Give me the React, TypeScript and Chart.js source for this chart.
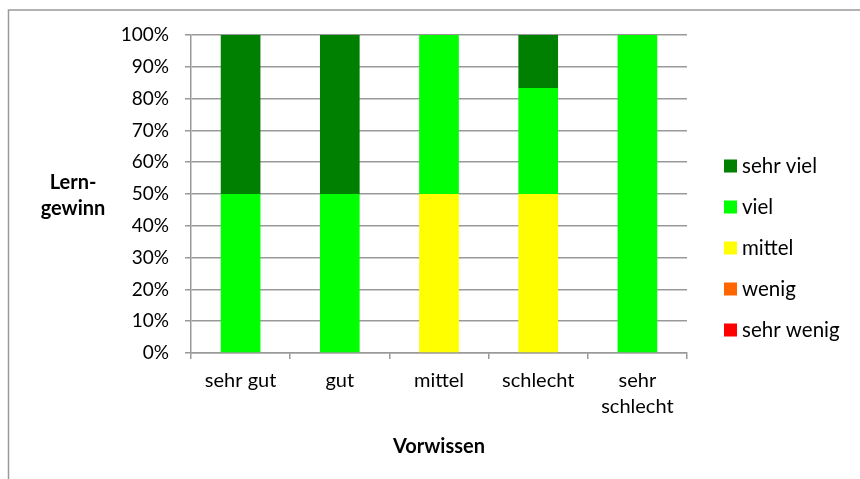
import React, { useEffect, useRef } from "react";
import { Chart, registerables } from "chart.js";

Chart.register(...registerables);

const categories: (string | string[])[] = ["sehr gut", "gut", "mittel", "schlecht", ["sehr", "schlecht"]];
const seriesNames = ["sehr wenig", "wenig", "mittel", "viel", "sehr viel"];
const seriesColors = ["#FF0000", "#FF6600", "#FFFF00", "#00FF00", "#008000"];
const sehrWenig = [0, 0, 0, 0, 0];
const wenig = [0, 0, 0, 0, 0];
const mittel = [0, 0, 50, 50, 0];
const viel = [50, 50, 50, 33.3, 100];
const sehrViel = [50, 50, 0, 16.7, 0];
const seriesValues = [sehrWenig, wenig, mittel, viel, sehrViel];
const yTicks = [0, 10, 20, 30, 40, 50, 60, 70, 80, 90, 100];

const FONT = "Lato, 'Open Sans', sans-serif";

const framePlugin = {
  id: "frame",
  beforeDraw(chart: any) {
    const ctx = chart.ctx;
    ctx.save();
    ctx.fillStyle = "#ffffff";
    ctx.fillRect(0, 0, chart.width, chart.height);
    ctx.strokeStyle = "#9a9a9a";
    ctx.lineWidth = 1.5;
    ctx.strokeRect(8.5, 10, 2000, 2000);
    ctx.restore();
  },
  afterDraw(chart: any) {
    const ctx = chart.ctx;
    ctx.save();
    // y-axis title (horizontal, two lines)
    ctx.fillStyle = "#000";
    ctx.font = `bold 20px ${FONT}`;
    ctx.textAlign = "center";
    ctx.textBaseline = "middle";
    ctx.fillText("Lern-", 73, 183);
    ctx.fillText("gewinn", 73, 209);
    // legend (reverse order)
    const ds = chart.data.datasets;
    ctx.font = `20.5px ${FONT}`;
    ctx.textAlign = "left";
    for (let i = 0; i < ds.length; i++) {
      const d = ds[ds.length - 1 - i];
      const cy = 166 + i * 41;
      ctx.fillStyle = d.backgroundColor;
      ctx.fillRect(724, cy - 6.5, 13, 13);
      ctx.fillStyle = "#000";
      ctx.fillText(d.label, 742, cy);
    }
    ctx.restore();
  },
};

export default function App() {
  const ref = useRef<HTMLCanvasElement | null>(null);
  useEffect(() => {
    if (!ref.current) return;
    const chart = new Chart(ref.current, {
      type: "bar",
      data: {
        labels: categories,
        datasets: seriesNames.map((name, i) => ({
          label: name,
          data: seriesValues[i],
          backgroundColor: seriesColors[i],
          borderWidth: 0,
          categoryPercentage: 1,
          barPercentage: 0.4,
        })),
      },
      options: {
        responsive: false,
        animation: false,
        layout: { padding: { left: 0, top: 35, right: 173, bottom: 0 } },
        plugins: {
          legend: { display: false },
          tooltip: { enabled: false },
        },
        scales: {
          x: {
            stacked: true,
            grid: {
              display: true,
              drawOnChartArea: false,
              drawTicks: true,
              tickLength: 6,
              color: "#999",
              lineWidth: 1.5,
            },
            border: { display: true, color: "#999", width: 1.5 },
            ticks: {
              color: "#000",
              font: { family: FONT, size: 20, lineHeight: 1.3 },
              padding: 9,
              maxRotation: 0,
              autoSkip: false,
            },
            title: {
              display: true,
              text: "Vorwissen",
              color: "#000",
              font: { family: FONT, size: 20, weight: "bold" },
              padding: { top: 0, bottom: 20 },
            },
            afterFit(scale: any) {
              scale.height = 126;
            },
          },
          y: {
            stacked: true,
            min: 0,
            max: 100,
            afterBuildTicks(scale: any) {
              scale.ticks = yTicks.map((v) => ({ value: v }));
            },
            grid: {
              color: "#999",
              lineWidth: 1.5,
              tickLength: 6,
            },
            border: { display: true, color: "#999", width: 1.5 },
            ticks: {
              color: "#000",
              font: { family: FONT, size: 19 },
              padding: 16,
              callback: (v: any) => v + "%",
            },
            afterFit(scale: any) {
              scale.width = 191;
            },
          },
        },
      },
      plugins: [framePlugin],
    });
    return () => chart.destroy();
  }, []);
  return (
    <div style={{ position: "absolute", left: 0, top: 0, width: 860, height: 479 }}>
      <canvas ref={ref} width={860} height={479} style={{ display: "block" }} />
    </div>
  );
}
